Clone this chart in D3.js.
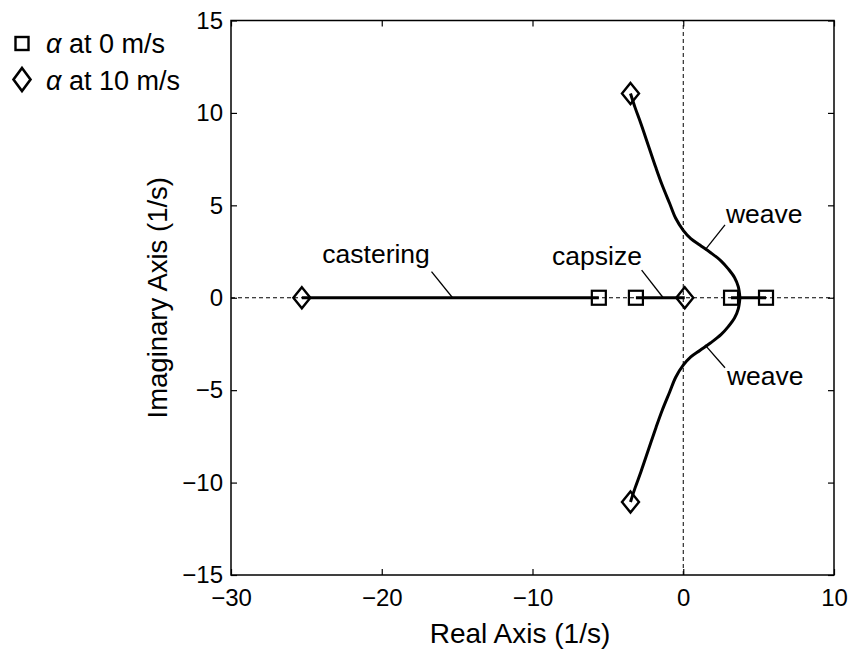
<!DOCTYPE html>
<html>
<head>
<meta charset="utf-8">
<script src="https://cdn.jsdelivr.net/npm/d3@7"></script>
<style>
  body { margin: 0; background: #fff; }
  text { font-family: "Liberation Sans", Arial, sans-serif; fill: #000; }
</style>
</head>
<body>
<div id="chart"></div>
<script>
// pole positions (real, imaginary), 1/s
var square_re = [-5.6, -3.14, 3.17, 5.49],
    square_im = [0, 0, 0, 0];

var diamond_re = [-25.3, 0.1, -3.5, -3.5],
    diamond_im = [0, 0, 11.05, -11.05];

// root loci along the real axis
var castering_re = [-25.3, -5.6],
    capsize_re = [-3.14, 0.1],
    weave_real_re = [3.17, 5.49];

// upper weave branch, the lower one is its mirror
var weave_re = [3.76, 3.65, 3.4, 3.0, 2.5, 1.8, 1.1, 0.5, 0, -0.5, -0.9, -1.4, -1.8, -2.3, -2.8, -3.2, -3.5],
    weave_im = [0, 0.6, 1.1, 1.55, 2.0, 2.45, 2.85, 3.2, 3.65, 4.3, 5.1, 6.1, 7.0, 8.2, 9.4, 10.3, 11.05];

var xTicks = [-30, -20, -10, 0, 10],
    yTicks = [-15, -10, -5, 0, 5, 10, 15];

// annotations: text, text position, leader from -> to
var ann_text = ['castering', 'capsize', 'weave', 'weave'],
    ann_anchor = ['end', 'end', 'start', 'start'],
    ann_tx = [-16.81, -2.74, 2.83, 2.9],
    ann_ty = [1.88, 1.77, 4.04, -4.71],
    ann_x1 = [-16.7, -2.76, 2.77, 1.44],
    ann_y1 = [1.41, 1.5, 3.94, -2.55],
    ann_x2 = [-15.3, -1.33, 1.44, 2.77],
    ann_y2 = [0, 0, 2.58, -3.79];

var legend_labels = ['at 0 m/s', 'at 10 m/s'];

var width = 854, height = 651,
    margin = {top: 20.5, right: 20, bottom: 76, left: 231};

var svg = d3.select('#chart').append('svg')
    .attr('width', width)
    .attr('height', height);

var x = d3.scaleLinear().domain([-30, 10]).range([margin.left, width - margin.right]),
    y = d3.scaleLinear().domain([-15, 15]).range([height - margin.bottom, margin.top]);

// dashed zero lines
svg.append('line')
  .attr('x1', x(-30)).attr('x2', x(10))
  .attr('y1', y(0)).attr('y2', y(0))
  .attr('stroke', '#000').attr('stroke-width', 1)
  .attr('stroke-dasharray', '4,3');
svg.append('line')
  .attr('x1', x(0)).attr('x2', x(0))
  .attr('y1', y(-15)).attr('y2', y(15))
  .attr('stroke', '#000').attr('stroke-width', 1)
  .attr('stroke-dasharray', '4,3');

// axes, ticks pointing in
function styleAxis(g) {
  g.select('.domain').remove();
  g.selectAll('.tick line').attr('stroke', '#000').attr('stroke-width', 1.2);
  g.selectAll('text').style('font-size', '24px').attr('fill', '#000');
}
svg.append('g')
  .attr('transform', 'translate(0,' + y(-15) + ')')
  .call(d3.axisBottom(x).tickValues(xTicks).tickSizeInner(-6).tickSizeOuter(0).tickPadding(14))
  .call(styleAxis);
svg.append('g')
  .attr('transform', 'translate(0,' + y(15) + ')')
  .call(d3.axisTop(x).tickValues(xTicks).tickSizeInner(-6).tickSizeOuter(0).tickFormat(''))
  .call(styleAxis);
svg.append('g')
  .attr('transform', 'translate(' + x(-30) + ',0)')
  .call(d3.axisLeft(y).tickValues(yTicks).tickSizeInner(-6).tickSizeOuter(0).tickPadding(8))
  .call(styleAxis);
svg.append('g')
  .attr('transform', 'translate(' + x(10) + ',0)')
  .call(d3.axisRight(y).tickValues(yTicks).tickSizeInner(-6).tickSizeOuter(0).tickFormat(''))
  .call(styleAxis);

svg.append('rect')
  .attr('x', x(-30)).attr('y', y(15))
  .attr('width', x(10) - x(-30)).attr('height', y(-15) - y(15))
  .attr('fill', 'none').attr('stroke', '#000').attr('stroke-width', 1.5);

// loci
var line = d3.line().x(function(d) { return x(d[0]); }).y(function(d) { return y(d[1]); });
var smooth = d3.line().x(function(d) { return x(d[0]); }).y(function(d) { return y(d[1]); })
    .curve(d3.curveCatmullRom);

[castering_re, capsize_re, weave_real_re].forEach(function(seg) {
  svg.append('path')
    .attr('d', line(seg.map(function(v) { return [v, 0]; })))
    .attr('fill', 'none').attr('stroke', '#000').attr('stroke-width', 3);
});

[1, -1].forEach(function(sgn) {
  var pts = weave_re.map(function(v, i) { return [v, sgn * weave_im[i]]; });
  svg.append('path')
    .attr('d', smooth(pts))
    .attr('fill', 'none').attr('stroke', '#000').attr('stroke-width', 3);
});

// markers
var sq = 14;
svg.selectAll('.sq').data(square_re).enter().append('rect')
  .attr('class', 'sq')
  .attr('x', function(d) { return x(d) - sq / 2; })
  .attr('y', function(d, i) { return y(square_im[i]) - sq / 2; })
  .attr('width', sq).attr('height', sq)
  .attr('fill', 'none').attr('stroke', '#000').attr('stroke-width', 2.2);

function diamondPath(cx, cy, w, h) {
  return 'M' + cx + ',' + (cy - h) + 'L' + (cx + w) + ',' + cy +
         'L' + cx + ',' + (cy + h) + 'L' + (cx - w) + ',' + cy + 'Z';
}
svg.selectAll('.dm').data(diamond_re).enter().append('path')
  .attr('class', 'dm')
  .attr('d', function(d, i) { return diamondPath(x(d), y(diamond_im[i]), 8.5, 10.5); })
  .attr('fill', 'none').attr('stroke', '#000').attr('stroke-width', 2.4);

// annotations
ann_text.forEach(function(t, i) {
  svg.append('line')
    .attr('x1', x(ann_x1[i])).attr('y1', y(ann_y1[i]))
    .attr('x2', x(ann_x2[i])).attr('y2', y(ann_y2[i]))
    .attr('stroke', '#000').attr('stroke-width', 1.3);
  svg.append('text')
    .attr('x', x(ann_tx[i])).attr('y', y(ann_ty[i]))
    .attr('text-anchor', ann_anchor[i])
    .style('font-size', '26.5px')
    .text(t);
});

// axis titles
svg.append('text')
  .attr('x', 520).attr('y', 643)
  .attr('text-anchor', 'middle')
  .style('font-size', '28px')
  .text('Real Axis (1/s)');
svg.append('text')
  .attr('transform', 'translate(167,' + y(0) + ') rotate(-90)')
  .attr('text-anchor', 'middle')
  .style('font-size', '27.5px')
  .text('Imaginary Axis (1/s)');

// legend
var leg = svg.append('g');
leg.append('rect')
  .attr('x', 22 - 6.5).attr('y', 43.5 - 6.5).attr('width', 13).attr('height', 13)
  .attr('fill', 'none').attr('stroke', '#000').attr('stroke-width', 2.4);
leg.append('path')
  .attr('d', diamondPath(22, 79.5, 8.5, 11.5))
  .attr('fill', 'none').attr('stroke', '#000').attr('stroke-width', 2.6);
legend_labels.forEach(function(t, i) {
  var txt = leg.append('text')
    .attr('x', 46).attr('y', 53 + i * 37)
    .style('font-size', '27px');
  txt.append('tspan').style('font-style', 'italic').text('\u03b1');
  txt.append('tspan').text(' ' + t);
});
</script>
</body>
</html>
